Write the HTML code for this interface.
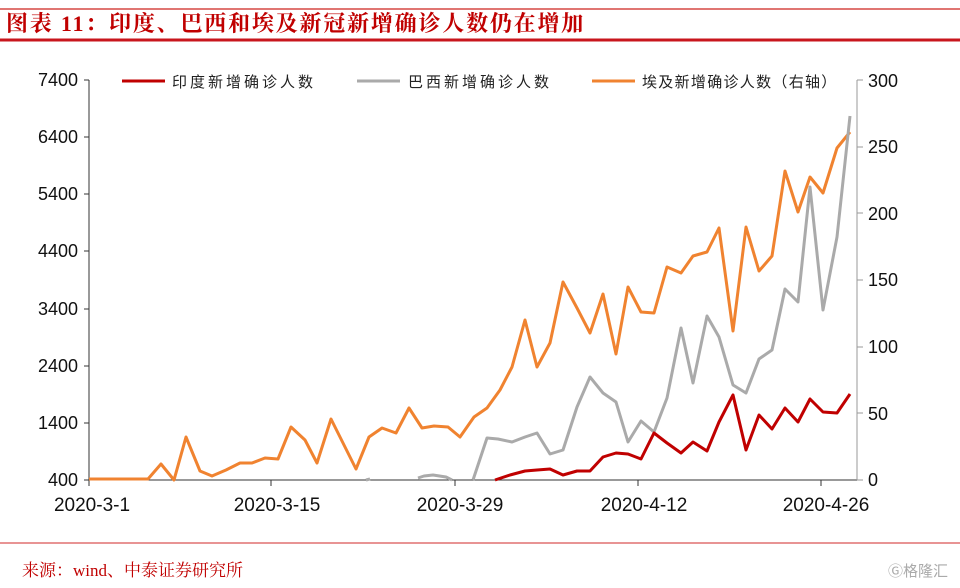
<!DOCTYPE html>
<html><head><meta charset="utf-8"><style>
body{margin:0;background:#fff;width:960px;height:588px;overflow:hidden;font-family:"Liberation Sans","Noto Sans CJK SC",sans-serif}
</style></head><body>
<svg width="960" height="588" xmlns="http://www.w3.org/2000/svg" style="position:absolute;left:0;top:0">
<line x1="0" y1="9" x2="960" y2="9" stroke="#d9534f" stroke-width="2" opacity="0.8"/>
<text x="6" y="31" font-family="'Liberation Serif','Noto Serif CJK SC',serif" font-size="22" font-weight="bold" fill="#c00000" letter-spacing="1.8">图表 11：印度、巴西和埃及新冠新增确诊人数仍在增加</text>
<line x1="0" y1="40" x2="960" y2="40" stroke="#c8161d" stroke-width="3"/>
<line x1="0" y1="543" x2="960" y2="543" stroke="#e07070" stroke-width="1.5"/>
<text x="22" y="576" font-family="'Liberation Serif','Noto Serif CJK SC',serif" font-size="17" fill="#c00000">来源：wind、中泰证券研究所</text>
<text x="888" y="576" font-size="15" fill="#aaa">Ⓖ格隆汇</text>

<g stroke="#333" stroke-width="1" fill="none">
<line x1="89" y1="80" x2="89" y2="480"/>
<line x1="89" y1="480" x2="857" y2="480"/>
</g>
<line x1="857" y1="80" x2="857" y2="480" stroke="#999"/>
<g stroke="#333">
<line x1="84" y1="80" x2="89" y2="80"/><line x1="84" y1="137" x2="89" y2="137"/><line x1="84" y1="194" x2="89" y2="194"/><line x1="84" y1="251" x2="89" y2="251"/><line x1="84" y1="309" x2="89" y2="309"/><line x1="84" y1="366" x2="89" y2="366"/><line x1="84" y1="423" x2="89" y2="423"/><line x1="84" y1="480" x2="89" y2="480"/>
<line x1="89" y1="480" x2="89" y2="486"/><line x1="271" y1="480" x2="271" y2="486"/><line x1="455" y1="480" x2="455" y2="486"/><line x1="638" y1="480" x2="638" y2="486"/><line x1="821" y1="480" x2="821" y2="486"/>
</g>
<g stroke="#999">
<line x1="857" y1="80" x2="863" y2="80"/><line x1="857" y1="147" x2="863" y2="147"/><line x1="857" y1="213" x2="863" y2="213"/><line x1="857" y1="280" x2="863" y2="280"/><line x1="857" y1="347" x2="863" y2="347"/><line x1="857" y1="413" x2="863" y2="413"/><line x1="857" y1="480" x2="863" y2="480"/>
</g>
<g font-size="18" fill="#111" text-anchor="end">
<text x="78" y="86">7400</text><text x="78" y="143">6400</text><text x="78" y="200">5400</text><text x="78" y="257">4400</text><text x="78" y="315">3400</text><text x="78" y="372">2400</text><text x="78" y="429">1400</text><text x="78" y="486">400</text>
</g>
<g font-size="18" fill="#111">
<text x="868" y="87">300</text><text x="868" y="153">250</text><text x="868" y="220">200</text><text x="868" y="286">150</text><text x="868" y="353">100</text><text x="868" y="420">50</text><text x="868" y="486">0</text>
</g>
<g font-size="19" fill="#111" text-anchor="middle">
<text x="92" y="511">2020-3-1</text><text x="277" y="511">2020-3-15</text><text x="460" y="511">2020-3-29</text><text x="644" y="511">2020-4-12</text><text x="826" y="511">2020-4-26</text>
</g>
<g font-size="15" fill="#222" font-family="'Liberation Sans','Noto Sans CJK SC',sans-serif">
<line x1="122" y1="81" x2="165" y2="81" stroke="#c00000" stroke-width="3"/><text x="172" y="87" letter-spacing="3">印度新增确诊人数</text>
<line x1="357" y1="81" x2="400" y2="81" stroke="#aaa" stroke-width="3"/><text x="408" y="87" letter-spacing="3">巴西新增确诊人数</text>
<line x1="592" y1="81" x2="635" y2="81" stroke="#f08330" stroke-width="3"/><text x="642" y="87" letter-spacing="1.3">埃及新增确诊人数（右轴）</text>
</g>
<g fill="none" stroke-width="3" stroke-linejoin="round">
<polyline stroke="#f08330" points="89,479 95,479 148,479 161,464 174,480 186,437 200,471 212,476 226,470 240,463 252,463 265,458 278,459 291,427 305,440 317,463 331,419 343,443 356,469 369,437 382,428 396,433 409,408 422,428 434,426 448,427 460,437 474,417 487,408 500,390 512,367 525,320 537,367 550,343 563,282 577,308 590,333 603,294 616,354 628,287 641,312 654,313 667,267 681,273 693,256 707,252 719,228 733,331 746,227 759,271 772,256 785,171 798,212 810,177 823,193 837,148 850,132"/>
<polyline stroke="#aaa" points="418,478 424,476 433,475 446,477 452,480"/>
<line x1="366" y1="480" x2="370" y2="479" stroke="#aaa"/>
<polyline stroke="#aaa" points="473,480 487,438 498,439 512,442 525,437 537,433 550,454 563,450 577,407 590,377 603,393 616,402 628,442 641,421 654,432 667,398 681,328 693,383 707,316 719,337 733,385 746,393 759,359 772,350 785,289 798,302 810,187 823,310 837,237 850,116"/>
<polyline stroke="#c00000" points="495,480 510,475 525,471 537,470 550,469 563,475 577,471 590,471 603,457 616,453 628,454 641,459 654,433 667,443 681,453 693,442 707,451 719,422 733,395 746,450 759,415 772,429 785,408 798,422 810,399 823,412 837,413 850,394"/>
</g>
</svg>
</body></html>
